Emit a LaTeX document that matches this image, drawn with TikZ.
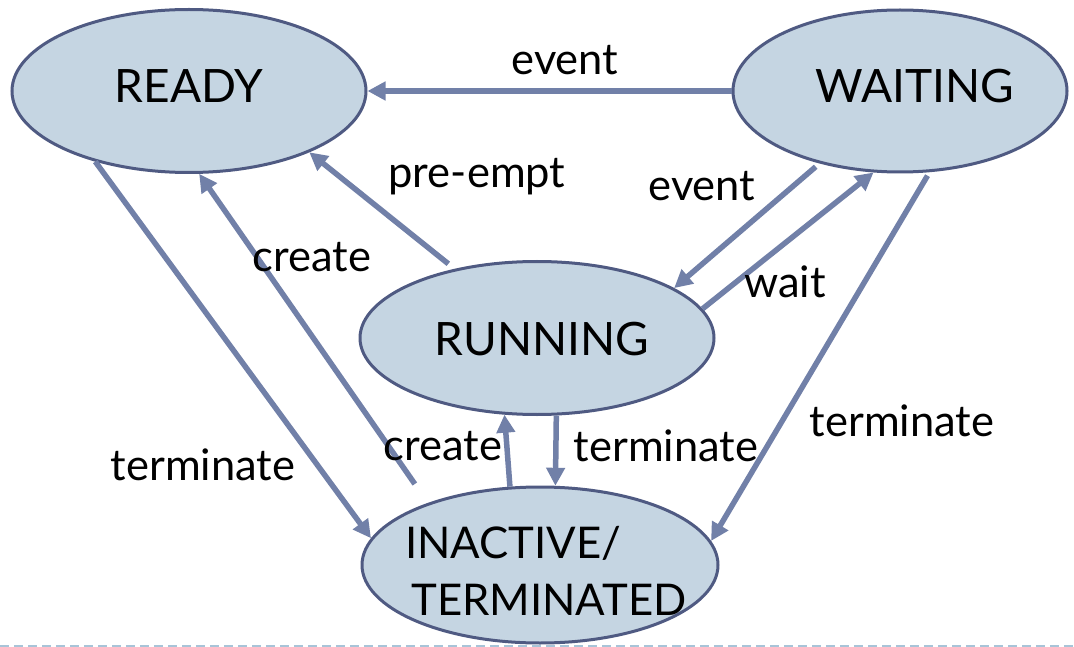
\documentclass[tikz,border=0pt]{standalone}
\usepackage{fontspec}
\setmainfont{Lato}
\usetikzlibrary{arrows.meta,shapes.geometric}
\definecolor{stfill}{HTML}{C5D5E2}
\definecolor{stline}{HTML}{4F5A82}
\definecolor{arr}{HTML}{7180A8}
\definecolor{dashc}{HTML}{A8C4D8}
\begin{document}
\begin{tikzpicture}[x=1pt,y=-1pt,
  state/.style={ellipse,draw=stline,fill=stfill,line width=3pt,inner sep=0pt},
  stxt/.style={font=\fontsize{46}{52}\selectfont,inner sep=0pt,anchor=base},
  stxtb/.style={font=\fontsize{43.7}{50}\selectfont,inner sep=0pt,anchor=base west},
  lbl/.style={font=\fontsize{43.5}{48}\selectfont,inner sep=0pt,anchor=base},
  conn/.style={draw=arr,line width=5.5pt,-{Triangle[length=18pt,width=18pt]}}]
\useasboundingbox (0,0) rectangle (1074,647);
\draw[dashc,line width=1.5pt,dash pattern=on 9pt off 5pt] (0,646) coordinate (dl) -- (1074,646) coordinate (dr);

\node[state,minimum width=354pt,minimum height=163pt] (ready) at (189,91) {};
\node[state,minimum width=334pt,minimum height=162pt] (waiting) at (900,91) {};
\node[state,minimum width=354pt,minimum height=153pt] (running) at (537,338) {};
\node[state,minimum width=356pt,minimum height=156pt] (inactive) at (540,565) {};

\node[stxt] (readyt) at (189,103) {READY};
\node[stxt] (waitingt) at (915,103) {WAITING};
\node[stxt] (runningt) at (542,355) {RUNNING};
\node[stxtb] (inactivet) at (405,558) {INACTIVE/};
\node[stxtb] (terminatedt) at (411,615) {TERMINATED};

\draw[conn] (waiting.west) -- (ready.east);
\draw[conn,shorten <=8pt] (running.140) -- (ready.-27.4);
\draw[conn,shorten <=23pt] (inactive.151.4) -- (ready.-83.8);
\draw[conn] (ready.-143) -- (inactive.171);
\draw[conn,shorten <=5pt] (waiting.-138) -- (running.20.7);
\draw[conn] (running.10.8) -- (waiting.-108.4);
\draw[conn,shorten <=4pt] (waiting.-70.3) -- (inactive.8);
\draw[conn] (inactive.111.8) -- (running.-113);
\draw[conn] (running.-76.5) -- (inactive.79);

\node[lbl] (l1) at (565,75) {event};
\node[lbl] (l2) at (477,188) {pre-empt};
\node[lbl] (l3) at (702,201) {event};
\node[lbl] (l4) at (312,272) {create};
\node[lbl] (l5) at (785,298) {wait};
\node[lbl] (l6) at (443,460) {create};
\node[lbl] (l7) at (666,461) {terminate};
\node[lbl] (l8) at (902,436) {terminate};
\node[lbl] (l9) at (203,480) {terminate};
\end{tikzpicture}
\end{document}
